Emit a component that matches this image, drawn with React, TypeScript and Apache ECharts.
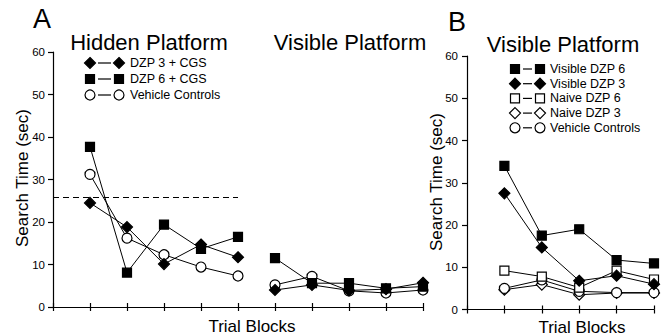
import React, { useEffect, useRef } from "react";
import * as echarts from "echarts";

// Panel A: trial blocks 1-5 hidden platform, 6-10 visible platform
const hiddenBlocks = [1, 2, 3, 4, 5];
const visibleBlocksA = [6, 7, 8, 9, 10];
const hiddenDzp3 = [24.5, 18.8, 10.1, 14.7, 11.7];
const visibleDzp3A = [4.0, 5.2, 3.9, 4.2, 5.7];
const hiddenDzp6 = [37.7, 8.1, 19.4, 13.7, 16.5];
const visibleDzp6A = [11.5, 5.6, 5.6, 4.4, 4.8];
const hiddenVehicle = [31.2, 16.2, 12.3, 9.4, 7.3];
const visibleVehicleA = [5.2, 7.2, 3.8, 3.3, 4.0];
const criterionLevel = 25.8;

// Panel B: visible platform trial blocks 1-5
const blocksB = [1, 2, 3, 4, 5];
const visDzp6B = [34.0, 17.5, 19.0, 11.7, 10.9];
const visDzp3B = [27.5, 14.7, 6.8, 8.0, 6.0];
const naiveDzp6B = [9.2, 7.8, 5.2, 9.2, 7.1];
const naiveDzp3B = [4.7, 5.9, 3.5, 3.9, 3.9];
const vehicleB = [5.0, 7.0, 4.3, 4.0, 4.0];

const yTicks = [0, 10, 20, 30, 40, 50, 60];

const legendA = [
  { name: "DZP 3 + CGS", shape: "diamond", filled: true },
  { name: "DZP 6 + CGS", shape: "square", filled: true },
  { name: "Vehicle Controls", shape: "circle", filled: false },
];
const legendB = [
  { name: "Visible DZP 6", shape: "square", filled: true },
  { name: "Visible DZP 3", shape: "diamond", filled: true },
  { name: "Naive DZP 6", shape: "square", filled: false },
  { name: "Naive DZP 3", shape: "diamond", filled: false },
  { name: "Vehicle Controls", shape: "circle", filled: false },
];

const FONT = "'Liberation Sans', Arial, Helvetica, sans-serif";

function symbolOf(shape: string) {
  if (shape === "square") return { symbol: "rect", symbolSize: 9 };
  if (shape === "diamond") return { symbol: "diamond", symbolSize: 11 };
  return { symbol: "circle", symbolSize: 10 };
}

function pairs(xs: number[], ys: number[]) {
  return xs.map((x, i) => [x, ys[i]]);
}

function makeSeries(name: string, shape: string, filled: boolean, xs: number[], ys: number[], axisIndex: number, extra: any = {}) {
  const s = symbolOf(shape);
  return {
    name,
    type: "line",
    xAxisIndex: axisIndex,
    yAxisIndex: axisIndex,
    data: pairs(xs, ys),
    symbol: s.symbol,
    symbolSize: s.symbolSize,
    showSymbol: true,
    lineStyle: { color: "#000", width: 1 },
    itemStyle: { color: filled ? "#000" : "#fff", borderColor: "#000", borderWidth: 1.2 },
    emphasis: { disabled: true },
    z: filled ? 3 : 2,
    ...extra,
  };
}

function legendGraphics(items: any[], x1: number, x2: number, textX: number, y0: number, dy: number) {
  const els: any[] = [];
  items.forEach((it, i) => {
    const y = y0 + i * dy;
    const style = { fill: it.filled ? "#000" : "#fff", stroke: "#000", lineWidth: 1.2 };
    [x1, x2].forEach((cx) => {
      if (it.shape === "square") {
        els.push({ type: "rect", shape: { x: cx - 4.5, y: y - 4.5, width: 9, height: 9 }, style });
      } else if (it.shape === "diamond") {
        els.push({ type: "polygon", shape: { points: [[cx, y - 5.5], [cx + 5.5, y], [cx, y + 5.5], [cx - 5.5, y]] }, style });
      } else {
        els.push({ type: "circle", shape: { cx, cy: y, r: 5 }, style });
      }
    });
    els.push({ type: "line", shape: { x1: x1 + 8, y1: y, x2: x2 - 8, y2: y }, style: { stroke: "#000", lineWidth: 1.2 } });
    els.push({ type: "text", x: textX, y, style: { text: it.name, fill: "#000", font: `12.5px ${FONT}`, textVerticalAlign: "middle", verticalAlign: "middle" } });
  });
  return els;
}

function textEl(text: string, x: number, y: number, size: number, align = "center", rotation = 0) {
  return {
    type: "text",
    x,
    y,
    rotation,
    style: { text, fill: "#000", font: `${size}px ${FONT}`, align, verticalAlign: "middle", textAlign: align, textVerticalAlign: "middle" },
  };
}

export default function App() {
  const ref = useRef<HTMLDivElement>(null);
  useEffect(() => {
    if (!ref.current) return;
    const chart = echarts.init(ref.current, undefined, { renderer: "svg" });
    const xAxisBase = (gridIndex: number, max: number) => ({
      type: "value",
      gridIndex,
      min: 0,
      max,
      interval: 1,
      position: "bottom",
      axisLine: { show: true, onZero: false, lineStyle: { color: "#000", width: 1.2 } },
      axisTick: { show: true, length: 4, lineStyle: { color: "#000", width: 1.2 } },
      axisLabel: { show: false },
      splitLine: { show: false },
    });
    const xAxisInner = (gridIndex: number, max: number) => ({
      type: "value",
      gridIndex,
      min: 0,
      max,
      interval: 1,
      position: "bottom",
      offset: 0,
      axisLine: { show: false },
      axisTick: { show: true, inside: true, length: 4, lineStyle: { color: "#000", width: 1.2 } },
      axisLabel: { show: false },
      splitLine: { show: false },
    });
    const yAxisBase = (gridIndex: number, margin: number) => ({
      type: "value",
      gridIndex,
      min: 0,
      max: 60,
      interval: 10,
      axisLine: { show: true, onZero: false, lineStyle: { color: "#000", width: 1.2 } },
      axisTick: { show: true, length: 5, lineStyle: { color: "#000", width: 1.2 } },
      axisLabel: { color: "#000", fontSize: 11.5, fontFamily: FONT, margin, formatter: (v: number) => (yTicks.includes(v) ? String(v) : "") },
      splitLine: { show: false },
    });

    const series: any[] = [
      makeSeries("Vehicle Controls", "circle", false, hiddenBlocks, hiddenVehicle, 0),
      makeSeries("Vehicle Controls", "circle", false, visibleBlocksA, visibleVehicleA, 0),
      makeSeries("DZP 3 + CGS", "diamond", true, hiddenBlocks, hiddenDzp3, 0, {
        markLine: {
          silent: true,
          symbol: "none",
          label: { show: false },
          lineStyle: { color: "#000", type: [6, 4], width: 1.2 },
          data: [[{ coord: [0, criterionLevel] }, { coord: [5, criterionLevel] }]],
        },
      }),
      makeSeries("DZP 3 + CGS", "diamond", true, visibleBlocksA, visibleDzp3A, 0),
      makeSeries("DZP 6 + CGS", "square", true, hiddenBlocks, hiddenDzp6, 0),
      makeSeries("DZP 6 + CGS", "square", true, visibleBlocksA, visibleDzp6A, 0),
      makeSeries("Naive DZP 3", "diamond", false, blocksB, naiveDzp3B, 1),
      makeSeries("Vehicle Controls", "circle", false, blocksB, vehicleB, 1),
      makeSeries("Naive DZP 6", "square", false, blocksB, naiveDzp6B, 1),
      makeSeries("Visible DZP 3", "diamond", true, blocksB, visDzp3B, 1),
      makeSeries("Visible DZP 6", "square", true, blocksB, visDzp6B, 1),
    ];

    chart.setOption({
      animation: false,
      backgroundColor: "#fff",
      grid: [
        { left: 53, top: 52, width: 370, height: 255 },
        { left: 467, top: 56, width: 187, height: 253.5 },
      ],
      xAxis: [xAxisBase(0, 10), xAxisBase(1, 5), xAxisInner(0, 10), xAxisInner(1, 5)],
      yAxis: [yAxisBase(0, 8), yAxisBase(1, 9)],
      series,
      graphic: [
        textEl("A", 42, 19, 27),
        textEl("B", 457, 22, 27),
        textEl("Hidden Platform", 149, 42, 22),
        textEl("Visible Platform", 350, 42, 22),
        textEl("Visible Platform", 563, 44, 22),
        textEl("Search Time (sec)", 22, 178, 17, "center", Math.PI / 2),
        textEl("Search Time (sec)", 436, 182, 17, "center", Math.PI / 2),
        textEl("Trial Blocks", 252, 326, 17),
        textEl("Trial Blocks", 582, 327, 17),
        ...legendGraphics(legendA, 90, 119, 130, 63, 16),
        ...legendGraphics(legendB, 515, 540, 550, 69, 14.7),
      ],
    });
    return () => chart.dispose();
  }, []);
  return <div ref={ref} style={{ position: "absolute", left: 0, top: 0, width: 666, height: 335 }} />;
}
